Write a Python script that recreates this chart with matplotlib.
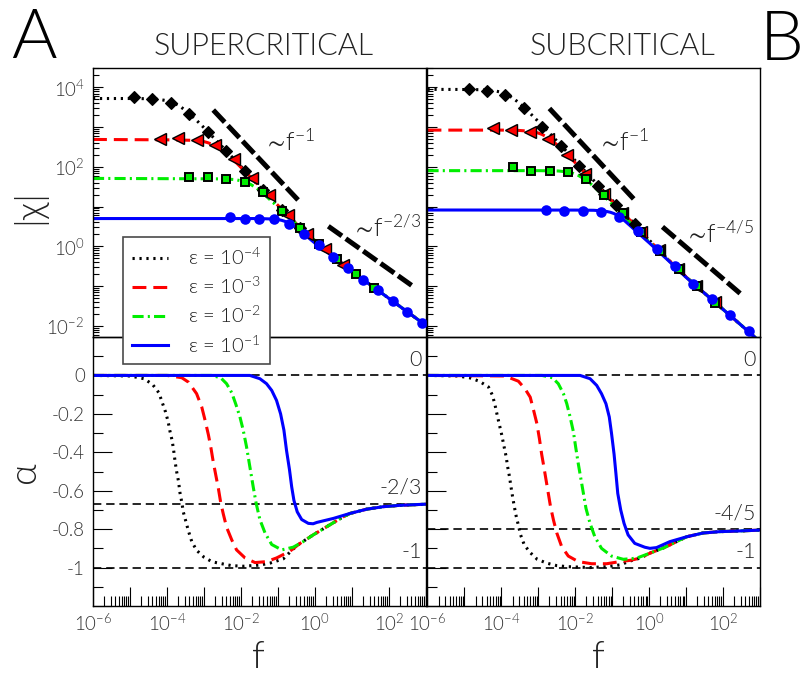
import numpy as np
import matplotlib
matplotlib.use("Agg")
import matplotlib.pyplot as plt
import matplotlib.transforms as mtransforms
from matplotlib.lines import Line2D
from matplotlib.ticker import LogLocator, NullFormatter, FixedLocator

plt.rcParams["font.family"] = ["Lato", "DejaVu Sans"]
plt.rcParams["font.weight"] = 300
plt.rcParams["mathtext.default"] = "regular"
plt.rcParams["lines.scale_dashes"] = False

# ---------------------------------------------------------------- labels
eps_labels = ["ε = 10$^{-4}$", "ε = 10$^{-3}$", "ε = 10$^{-2}$", "ε = 10$^{-1}$"]
panel_titles = ["SUPERCRITICAL", "SUBCRITICAL"]
panel_letters = ["A", "B"]
f_tick_exps = [-6, -5, -4, -3, -2, -1, 0, 1, 2, 3]
f_tick_labels = ["$10^{-6}$", "", "$10^{-4}$", "", "$10^{-2}$", "", "$10^{0}$", "", "$10^{2}$", ""]
chi_tick_exps = [-2, -1, 0, 1, 2, 3, 4]
chi_tick_labels = ["$10^{-2}$", "", "$10^{0}$", "", "$10^{2}$", "", "$10^{4}$"]
alpha_ticks = [0.0, -0.2, -0.4, -0.6, -0.8, -1.0, -1.2]
alpha_tick_labels = ["0", "-0.2", "-0.4", "-0.6", "-0.8", "-1", ""]
alpha_minor_ticks = [0.1, -0.1, -0.3, -0.5, -0.7, -0.9, -1.1]

# asymptotic exponents marked in the alpha panels
sup_alpha_levels = [0.0, -2.0 / 3.0, -1.0]
sup_alpha_level_labels = ["0", "-2/3", "-1"]
sub_alpha_levels = [0.0, -0.8, -1.0]
sub_alpha_level_labels = ["0", "-4/5", "-1"]

# ------------------------------------------- supercritical |chi| (log10 f, log10 |chi|)
sup_e4_line_logf = [-6, -5, -4.6, -4.4, -4.2, -4.0, -3.85, -3.7, -3.55, -3.4, -3.2, -3.0, -2.5, -2.0,
                    -1.5, -1.0, -0.5, 0, 0.5, 1, 1.5, 2, 2.5, 3]
sup_e4_line_logchi = [3.72, 3.72, 3.716, 3.709, 3.695, 3.665, 3.622, 3.555, 3.455, 3.34, 3.17, 2.985,
                      2.50, 2.01, 1.50, 1.025, 0.565, 0.14, -0.255, -0.625, -0.97, -1.31, -1.65, -1.99]
sup_e3_line_logf = [-6, -4, -3.4, -3.2, -3.05, -2.9, -2.75, -2.6, -2.45, -2.3, -2.1, -1.9, -1.6, -1.3,
                    -1.0, -0.5, 0, 0.5, 1, 1.5, 2, 2.5, 3]
sup_e3_line_logchi = [2.69, 2.68, 2.67, 2.666, 2.648, 2.61, 2.556, 2.48, 2.375, 2.255, 2.08, 1.89, 1.61,
                      1.32, 1.03, 0.565, 0.14, -0.255, -0.625, -0.97, -1.31, -1.65, -1.99]
sup_e2_line_logf = [-6, -3, -2.4, -2.15, -1.95, -1.75, -1.6, -1.5, -1.35, -1.2, -1.0, -0.5, 0, 0.5, 1,
                    1.5, 2, 2.5, 3]
sup_e2_line_logchi = [1.71, 1.70, 1.698, 1.678, 1.64, 1.565, 1.48, 1.41, 1.29, 1.16, 0.99, 0.555, 0.14,
                      -0.255, -0.625, -0.97, -1.31, -1.65, -1.99]
sup_e1_line_logf = [-6, -1.5, -1.2, -1.0, -0.9, -0.8, -0.7, -0.6, -0.5, -0.4, -0.2, 0, 0.5, 1, 1.5, 2,
                    2.5, 3]
sup_e1_line_logchi = [0.70, 0.70, 0.69, 0.675, 0.655, 0.625, 0.58, 0.525, 0.46, 0.39, 0.235, 0.08,
                      -0.265, -0.625, -0.97, -1.31, -1.65, -1.99]

sup_e4_pts_logf = [-4.9, -4.4, -3.9, -3.4, -2.9, -2.4, -1.9, -1.4, -0.9, -0.4]
sup_e4_pts_logchi = [3.748, 3.698, 3.597, 3.32, 2.88, 2.395, 1.90, 1.413, 0.927, 0.47]
sup_e3_pts_logf = [-4.2, -3.7, -3.2, -2.7, -2.2, -1.7, -1.24, -0.73, -0.22, 0.27, 0.76]
sup_e3_pts_logchi = [2.69, 2.73, 2.67, 2.55, 2.19, 1.71, 1.30, 0.78, 0.32, -0.06, -0.48]
sup_e2_pts_logf = [-3.4, -2.9, -2.4, -1.9, -1.4, -0.9, -0.4, 0.1, 0.6, 1.1, 1.6]
sup_e2_pts_logchi = [1.748, 1.733, 1.69, 1.62, 1.36, 0.90, 0.47, 0.07, -0.33, -0.70, -1.04]
sup_e1_pts_logf = [-2.3, -1.9, -1.5, -1.1, -0.7, -0.3, 0.1, 0.5, 0.9, 1.3, 1.7, 2.1, 2.5, 2.9]
sup_e1_pts_logchi = [0.74, 0.70, 0.70, 0.70, 0.574, 0.32, 0.04, -0.27, -0.54, -0.84, -1.09, -1.38,
                     -1.65, -1.92]

sup_guide1_logf = [-2.75, -0.41]
sup_guide1_logchi = [3.43, 1.12]
sup_guide2_logf = [0.36, 2.61]
sup_guide2_logchi = [0.506, -0.98]

# --------------------------------------------- subcritical |chi| (log10 f, log10 |chi|)
sub_e4_line_logf = [-6, -5.2, -4.6, -4.35, -4.17, -4.05, -3.93, -3.83, -3.74, -3.65, -3.54, -3.38,
                    -3.22, -3.03, -2.77, -2.5, -2.0, -1.5, -1.0, -0.5, 0, 0.5, 1, 1.5, 2, 2.5, 3]
sub_e4_line_logchi = [3.95, 3.948, 3.942, 3.931, 3.912, 3.887, 3.849, 3.807, 3.76, 3.703, 3.623, 3.49,
                      3.346, 3.168, 2.917, 2.652, 2.155, 1.655, 1.16, 0.665, 0.16, -0.32, -0.77, -1.18,
                      -1.585, -1.99, -2.40]
sub_e3_line_logf = [-6, -4.0, -3.54, -3.22, -3.04, -2.91, -2.79, -2.67, -2.5, -2.37, -2.19, -1.92,
                    -1.56, -1.15, -0.79, -0.5, 0, 0.5, 1, 1.5, 2, 2.5, 3]
sub_e3_line_logchi = [2.925, 2.925, 2.918, 2.896, 2.863, 2.82, 2.763, 2.689, 2.561, 2.45, 2.285, 2.027,
                      1.676, 1.274, 0.923, 0.64, 0.155, -0.32, -0.77, -1.18, -1.585, -1.99, -2.40]
sub_e2_line_logf = [-6, -3.0, -2.46, -2.23, -2.05, -1.92, -1.78, -1.6, -1.47, -1.29, -1.02, -0.7,
                    -0.34, 0, 0.5, 1, 1.5, 2, 2.5, 3]
sub_e2_line_logchi = [1.905, 1.905, 1.897, 1.875, 1.835, 1.786, 1.711, 1.587, 1.482, 1.325, 1.077,
                      0.773, 0.43, 0.11, -0.33, -0.77, -1.18, -1.585, -1.99, -2.40]
sub_e1_line_logf = [-6, -2.0, -1.5, -1.3, -1.15, -1.05, -0.95, -0.85, -0.75, -0.65, -0.5, -0.3, 0,
                    0.25, 0.5, 1, 1.5, 2, 2.5, 3]
sub_e1_line_logchi = [0.915, 0.913, 0.908, 0.896, 0.878, 0.858, 0.825, 0.774, 0.708, 0.633, 0.508,
                      0.338, 0.09, -0.125, -0.34, -0.78, -1.18, -1.585, -1.99, -2.40]

sub_e4_pts_logf = [-4.89, -4.39, -3.89, -3.39, -2.89, -2.39, -1.89, -1.39, -0.89, -0.39]
sub_e4_pts_logchi = [3.95, 3.915, 3.81, 3.47, 3.01, 2.52, 2.03, 1.52, 1.035, 0.56]
sub_e3_pts_logf = [-4.23, -3.73, -3.23, -2.73, -2.23, -1.73, -1.23, -0.73, -0.23, 0.27, 0.77, 1.27,
                   1.77]
sub_e3_pts_logchi = [2.97, 2.925, 2.88, 2.69, 2.295, 1.83, 1.33, 0.85, 0.37, -0.10, -0.56, -0.99, -1.40]
sub_e2_pts_logf = [-3.69, -3.2, -2.69, -2.2, -1.72, -1.22, -0.71, -0.21, 0.29, 0.8, 1.3, 1.78]
sub_e2_pts_logchi = [2.0, 1.90, 1.90, 1.86, 1.69, 1.29, 0.83, 0.35, -0.115, -0.58, -1.005, -1.42]
sub_e1_pts_logf = [-2.8, -2.3, -1.8, -1.31, -0.81, -0.3, 0.2, 0.69, 1.19, 1.69, 2.19, 2.69]
sub_e1_pts_logchi = [0.927, 0.89, 0.89, 0.867, 0.75, 0.38, -0.055, -0.50, -0.94, -1.33, -1.735, -2.14]

sub_guide1_logf = [-2.70, -0.405]
sub_guide1_logchi = [3.47, 1.18]
sub_guide2_logf = [0.36, 2.52]
sub_guide2_logchi = [0.49, -1.23]

# ----------------------------------------- supercritical alpha (log10 f, local exponent)
sup_e4_alpha_logf = [-6, -5, -4.62, -4.39, -4.22, -4.13, -4.04, -3.97, -3.92, -3.86, -3.82, -3.78,
                     -3.74, -3.69, -3.65, -3.60, -3.56, -3.49, -3.42, -3.33, -3.20, -3.00, -2.78,
                     -2.52, -2.25, -1.94, -1.49, -1.22, -0.86, -0.6, -0.41, -0.05, 0.32, 0.77, 0.95,
                     1.40, 1.85, 2.30, 3.0]
sup_e4_alpha = [0, -0.003, -0.017, -0.047, -0.09, -0.14, -0.19, -0.24, -0.29, -0.34, -0.39, -0.45,
                -0.50, -0.55, -0.61, -0.66, -0.71, -0.76, -0.81, -0.865, -0.91, -0.946, -0.97,
                -0.98, -0.99, -0.993, -0.987, -0.977, -0.955, -0.905, -0.875, -0.83, -0.787, -0.735,
                -0.718, -0.696, -0.683, -0.676, -0.67]
sup_e3_alpha_logf = [-6, -4.0, -3.6, -3.42, -3.20, -3.06, -2.97, -2.88, -2.81, -2.75, -2.68, -2.61,
                     -2.55, -2.48, -2.39, -2.25, -2.12, -1.89, -1.62, -1.31, -1.04, -0.68, -0.41,
                     -0.05, 0.32, 0.77, 0.95, 1.40, 1.85, 2.30, 3.0]
sup_e3_alpha = [0, 0, -0.012, -0.035, -0.095, -0.165, -0.234, -0.31, -0.38, -0.45, -0.52, -0.59,
                -0.66, -0.72, -0.79, -0.856, -0.908, -0.95, -0.974, -0.969, -0.95, -0.915, -0.875,
                -0.83, -0.787, -0.735, -0.718, -0.696, -0.683, -0.676, -0.67]
sup_e2_alpha_logf = [-6, -2.8, -2.55, -2.39, -2.25, -2.14, -2.03, -1.94, -1.85, -1.76, -1.67, -1.59,
                     -1.49, -1.35, -1.17, -0.90, -0.59, -0.32, -0.05, 0.32, 0.77, 0.95, 1.40, 1.85,
                     2.30, 3.0]
sup_e2_alpha = [0, 0, -0.012, -0.043, -0.09, -0.15, -0.215, -0.285, -0.372, -0.476, -0.58, -0.666,
                -0.75, -0.82, -0.88, -0.908, -0.894, -0.865, -0.83, -0.787, -0.735, -0.718, -0.696,
                -0.683, -0.676, -0.67]
sup_e1_alpha_logf = [-6, -1.76, -1.49, -1.31, -1.17, -1.04, -0.93, -0.84, -0.77, -0.69, -0.63, -0.57,
                     -0.48, -0.36, -0.18, -0.05, 0.05, 0.50, 0.95, 1.40, 1.85, 2.30, 3.0]
sup_e1_alpha = [0, 0, -0.017, -0.043, -0.078, -0.13, -0.20, -0.285, -0.39, -0.49, -0.58, -0.65,
                -0.71, -0.75, -0.77, -0.772, -0.765, -0.744, -0.718, -0.696, -0.683, -0.676, -0.67]

# ------------------------------------------- subcritical alpha (log10 f, local exponent)
sub_e4_alpha_logf = [-6, -5.2, -4.865, -4.60, -4.35, -4.24, -4.17, -4.11, -4.05, -3.99, -3.93, -3.87,
                     -3.83, -3.78, -3.74, -3.70, -3.65, -3.60, -3.54, -3.48, -3.38, -3.22, -3.03,
                     -2.77, -2.50, -2.23, -1.60, -1.15, -0.79, -0.5, -0.25, 0.02, 0.29, 0.42, 0.74,
                     1.01, 1.46, 1.91, 2.36, 3.0]
sub_e4_alpha = [0, -0.003, -0.012, -0.03, -0.06, -0.104, -0.156, -0.21, -0.26, -0.31, -0.368,
                -0.424, -0.476, -0.528, -0.58, -0.628, -0.683, -0.732, -0.78, -0.83, -0.882, -0.922,
                -0.957, -0.977, -0.99, -0.995, -1.0, -0.995, -0.986, -0.965, -0.951, -0.925, -0.905,
                -0.895, -0.865, -0.84, -0.82, -0.813, -0.81, -0.805]
sub_e3_alpha_logf = [-6, -3.9, -3.54, -3.36, -3.22, -3.13, -3.04, -2.97, -2.91, -2.85, -2.79, -2.73,
                     -2.67, -2.59, -2.50, -2.37, -2.19, -1.92, -1.56, -1.15, -0.79, -0.5, -0.25, 0.02,
                     0.29, 0.42, 0.74, 1.01, 1.46, 1.91, 2.36, 3.0]
sub_e3_alpha = [0, -0.003, -0.03, -0.07, -0.113, -0.18, -0.25, -0.33, -0.41, -0.476, -0.545, -0.614,
                -0.683, -0.753, -0.82, -0.89, -0.94, -0.969, -0.98, -0.98, -0.969, -0.962, -0.951,
                -0.925, -0.905, -0.895, -0.865, -0.84, -0.82, -0.813, -0.81, -0.805]
sub_e2_alpha_logf = [-6, -2.9, -2.62, -2.46, -2.32, -2.23, -2.14, -2.05, -1.99, -1.92, -1.85, -1.78,
                     -1.71, -1.60, -1.47, -1.29, -1.02, -0.70, -0.34, 0.02, 0.29, 0.42, 0.74, 1.01,
                     1.46, 1.91, 2.36, 3.0]
sub_e2_alpha = [0, 0, -0.012, -0.043, -0.095, -0.147, -0.216, -0.294, -0.372, -0.458, -0.536, -0.614,
                -0.692, -0.77, -0.84, -0.90, -0.94, -0.957, -0.951, -0.925, -0.905, -0.895, -0.865,
                -0.84, -0.82, -0.813, -0.81, -0.805]
sub_e1_alpha_logf = [-6, -1.87, -1.60, -1.42, -1.29, -1.17, -1.08, -1.02, -0.95, -0.90, -0.85, -0.77,
                     -0.68, -0.57, -0.39, -0.12, 0.02, 0.20, 0.56, 1.01, 1.46, 1.91, 2.36, 3.0]
sub_e1_alpha = [0, 0, -0.017, -0.052, -0.095, -0.147, -0.216, -0.30, -0.41, -0.51, -0.614, -0.70,
                -0.77, -0.83, -0.874, -0.894, -0.90, -0.896, -0.865, -0.84, -0.82, -0.813, -0.81,
                -0.805]

# ---------------------------------------------------------------- styling
FIG_W, FIG_H = 804, 675
colors = ["#000000", "#ff0000", "#00ee00", "#0000ff"]
line_dashes = [(1.6, 3.4), (10, 5), (8, 3, 1.5, 3), None]
markers = [dict(marker="D", ms=6.4, mfc="#000000", mec="#000000", mew=0.8),
           dict(marker="<", ms=8.6, mfc="#ff0000", mec="#000000", mew=1.0),
           dict(marker="s", ms=5.6, mfc="#00ee00", mec="#000000", mew=1.4),
           dict(marker="o", ms=7.6, mfc="#0000ff", mec="#0000ff", mew=0.0)]
LW = 2.2
TICK_COLOR = "#333333"
TEXT_COLOR = "#222222"


def rect(x0, y0, x1, y1):
    return [x0 / FIG_W, 1 - y1 / FIG_H, (x1 - x0) / FIG_W, (y1 - y0) / FIG_H]


def fig_xy(x, y):
    return x / FIG_W, 1 - y / FIG_H


def draw_line(ax, logf, vals, i, log_y):
    x = 10.0 ** np.asarray(logf)
    y = 10.0 ** np.asarray(vals) if log_y else np.asarray(vals)
    ln, = ax.plot(x, y, color=colors[i], lw=LW, zorder=2 + 0.1 * i,
                  solid_capstyle="butt", dash_capstyle="butt")
    if line_dashes[i] is not None:
        ln.set_dashes(line_dashes[i])
    return ln


def draw_points(ax, logf, vals, i):
    ax.plot(10.0 ** np.asarray(logf), 10.0 ** np.asarray(vals), ls="none",
            zorder=4 + 0.1 * i, **markers[i])


def base_style(ax):
    ax.set_xscale("log")
    ax.set_xlim(1e-6, 1e3)
    ax.patch.set_alpha(0.0)
    for sp in ax.spines.values():
        sp.set_linewidth(1.0)
        sp.set_color("#000000")
    ax.tick_params(which="both", direction="in", top=False, right=False,
                   labelsize=13.5, labelcolor=TICK_COLOR, width=0.8, color="#000000")


def style_chi(ax, show_labels):
    base_style(ax)
    ax.set_yscale("log")
    ax.set_ylim(10 ** -2.28, 10 ** 4.48)
    ax.set_yticks(10.0 ** np.array(chi_tick_exps),
                  chi_tick_labels if show_labels else [""] * len(chi_tick_exps))
    ax.yaxis.set_minor_locator(LogLocator(base=10, subs=np.arange(2, 10), numticks=40))
    ax.yaxis.set_minor_formatter(NullFormatter())
    ax.tick_params(axis="y", which="major", length=7, pad=6)
    ax.tick_params(axis="y", which="minor", length=4)
    ax.tick_params(axis="x", which="both", bottom=False, labelbottom=False)


def style_alpha(ax, show_labels):
    base_style(ax)
    ax.set_ylim(-1.2, 0.2)
    ax.set_yticks(alpha_ticks, alpha_tick_labels if show_labels else [""] * len(alpha_ticks))
    ax.yaxis.set_minor_locator(FixedLocator(alpha_minor_ticks))
    ax.set_xticks(10.0 ** np.array(f_tick_exps), f_tick_labels)
    ax.xaxis.set_minor_locator(LogLocator(base=10, subs=np.arange(2, 10), numticks=40))
    ax.xaxis.set_minor_formatter(NullFormatter())
    ax.tick_params(axis="both", which="major", length=14)
    ax.tick_params(axis="both", which="minor", length=7)
    ax.tick_params(axis="y", which="major", pad=6)
    ax.tick_params(axis="x", which="major", pad=5)


fig = plt.figure(figsize=(FIG_W / 100, FIG_H / 100), dpi=100)
ax_sup_chi = fig.add_axes(rect(93, 68.3, 426, 337))
ax_sub_chi = fig.add_axes(rect(427.5, 68.3, 760, 337))
ax_sup_alpha = fig.add_axes(rect(93, 337, 426, 606))
ax_sub_alpha = fig.add_axes(rect(427.5, 337, 760, 606))

style_chi(ax_sup_chi, True)
style_chi(ax_sub_chi, False)
style_alpha(ax_sup_alpha, True)
style_alpha(ax_sub_alpha, False)

# |chi| panels
sup_lines = [(sup_e4_line_logf, sup_e4_line_logchi), (sup_e3_line_logf, sup_e3_line_logchi),
             (sup_e2_line_logf, sup_e2_line_logchi), (sup_e1_line_logf, sup_e1_line_logchi)]
sup_pts = [(sup_e4_pts_logf, sup_e4_pts_logchi), (sup_e3_pts_logf, sup_e3_pts_logchi),
           (sup_e2_pts_logf, sup_e2_pts_logchi), (sup_e1_pts_logf, sup_e1_pts_logchi)]
sub_lines = [(sub_e4_line_logf, sub_e4_line_logchi), (sub_e3_line_logf, sub_e3_line_logchi),
             (sub_e2_line_logf, sub_e2_line_logchi), (sub_e1_line_logf, sub_e1_line_logchi)]
sub_pts = [(sub_e4_pts_logf, sub_e4_pts_logchi), (sub_e3_pts_logf, sub_e3_pts_logchi),
           (sub_e2_pts_logf, sub_e2_pts_logchi), (sub_e1_pts_logf, sub_e1_pts_logchi)]

for ax, lines, pts in ((ax_sup_chi, sup_lines, sup_pts), (ax_sub_chi, sub_lines, sub_pts)):
    for i, (lf, lv) in enumerate(lines):
        draw_line(ax, lf, lv, i, True)
    for i in (3, 0, 1, 2):
        draw_points(ax, pts[i][0], pts[i][1], i)

for ax, guides in ((ax_sup_chi, [(sup_guide1_logf, sup_guide1_logchi), (sup_guide2_logf, sup_guide2_logchi)]),
                   (ax_sub_chi, [(sub_guide1_logf, sub_guide1_logchi), (sub_guide2_logf, sub_guide2_logchi)])):
    for gf, gv in guides:
        g, = ax.plot(10.0 ** np.asarray(gf), 10.0 ** np.asarray(gv), color="#000000", lw=3.6,
                     zorder=6, dash_capstyle="butt")
        g.set_dashes((12, 3.4))

scaling_labels = [(ax_sup_chi, -1.405, 2.42, r"$\sim\!f^{-1}$"),
                  (ax_sup_chi, 0.98, 0.23, r"$\sim\!f^{-2/3}$"),
                  (ax_sub_chi, -1.41, 2.42, r"$\sim\!f^{-1}$"),
                  (ax_sub_chi, 0.95, 0.08, r"$\sim\!f^{-4/5}$")]
for ax, lx, ly, s in scaling_labels:
    ax.text(10 ** lx, 10 ** ly, s, fontsize=18, color=TEXT_COLOR, ha="left", va="baseline",
            zorder=8)

# alpha panels
sup_alpha = [(sup_e4_alpha_logf, sup_e4_alpha), (sup_e3_alpha_logf, sup_e3_alpha),
             (sup_e2_alpha_logf, sup_e2_alpha), (sup_e1_alpha_logf, sup_e1_alpha)]
sub_alpha = [(sub_e4_alpha_logf, sub_e4_alpha), (sub_e3_alpha_logf, sub_e3_alpha),
             (sub_e2_alpha_logf, sub_e2_alpha), (sub_e1_alpha_logf, sub_e1_alpha)]

for ax, curves, levels, level_labels in ((ax_sup_alpha, sup_alpha, sup_alpha_levels, sup_alpha_level_labels),
                                         (ax_sub_alpha, sub_alpha, sub_alpha_levels, sub_alpha_level_labels)):
    for lev in levels:
        h = ax.axhline(lev, color="#000000", lw=1.2, zorder=1.5)
        h.set_dashes((6, 3.5))
    for i, (lf, av) in enumerate(curves):
        draw_line(ax, lf, av, i, False)
    trans = mtransforms.blended_transform_factory(ax.transAxes, ax.transData)
    for lev, lab in zip(levels, level_labels):
        ax.text(0.988, lev + 0.03, lab, transform=trans, fontsize=15.5, color=TEXT_COLOR,
                ha="right", va="bottom")

# legend spanning the two left panels
handles = []
for i in range(4):
    h = Line2D([], [], color=colors[i], lw=LW, dash_capstyle="butt")
    if line_dashes[i] is not None:
        h.set_dashes(line_dashes[i])
    handles.append(h)
leg = fig.legend(handles, eps_labels, loc="upper left",
                 bbox_to_anchor=fig_xy(122.7, 237.3), bbox_transform=fig.transFigure,
                 borderaxespad=0, fontsize=14.5, frameon=True, fancybox=False, framealpha=1,
                 edgecolor="#4a4a4a", handlelength=1.8, handletextpad=1.0, labelspacing=0.4,
                 borderpad=0.45, labelcolor=TEXT_COLOR)
leg.get_frame().set_linewidth(1.2)

# titles, panel letters and axis labels
fig.text(*fig_xy(264, 55), panel_titles[0], fontsize=22, color=TEXT_COLOR, ha="center", va="baseline")
fig.text(*fig_xy(622.5, 55), panel_titles[1], fontsize=22, color=TEXT_COLOR, ha="center", va="baseline")
fig.text(*fig_xy(34, 58), panel_letters[0], fontsize=50, color="#000000", ha="center", va="baseline")
fig.text(*fig_xy(760, 60), panel_letters[1], fontsize=50, color="#000000", ha="left", va="baseline")
fig.text(*fig_xy(29, 207), "|χ|", fontsize=27, color=TEXT_COLOR, rotation=90, ha="center", va="center")
fig.text(*fig_xy(25, 472), "α", fontsize=27, color=TEXT_COLOR, rotation=90, ha="center", va="center")
fig.text(*fig_xy(258, 668), "f", fontsize=27, color=TEXT_COLOR, ha="center", va="baseline")
fig.text(*fig_xy(598, 668), "f", fontsize=27, color=TEXT_COLOR, ha="center", va="baseline")

fig.savefig("out.png", dpi=100)
